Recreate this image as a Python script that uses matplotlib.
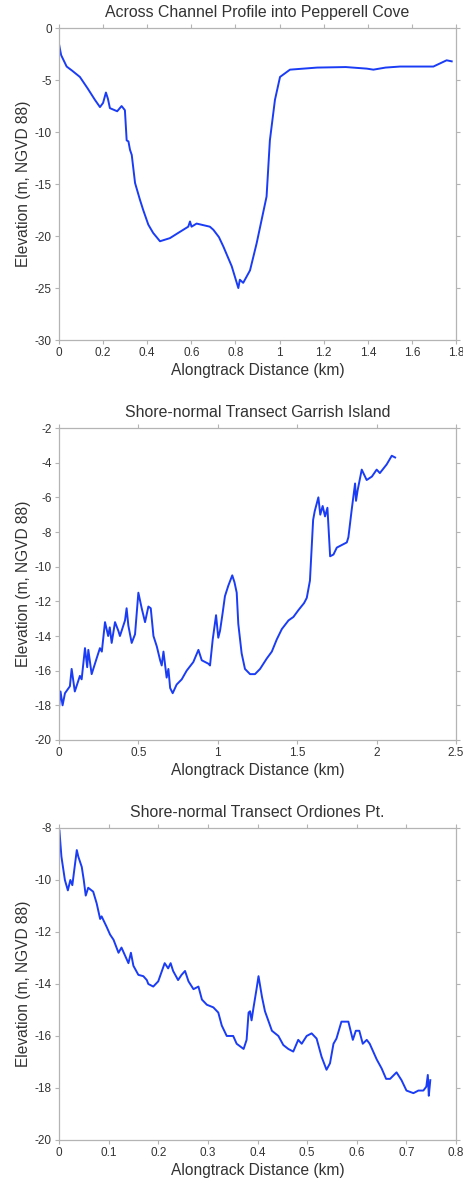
import matplotlib
matplotlib.use("Agg")
import matplotlib.pyplot as plt

plt.rcParams['font.family'] = ['Liberation Sans', 'DejaVu Sans']

# Panel 1: Across Channel Profile into Pepperell Cove
dist_pepperell = [0.0, 0.01, 0.035, 0.06, 0.095, 0.13, 0.163, 0.186, 0.2, 0.213, 0.222, 0.231, 0.264, 0.284,
                  0.299, 0.307, 0.315, 0.322, 0.33, 0.345, 0.367, 0.382, 0.405, 0.427, 0.458, 0.503,
                  0.548, 0.586, 0.594, 0.601, 0.624, 0.684, 0.70, 0.725, 0.745, 0.783, 0.813, 0.82,
                  0.835, 0.866, 0.896, 0.934, 0.941, 0.956, 0.979, 1.002, 1.047, 1.17, 1.3,
                  1.395, 1.425, 1.48, 1.546, 1.697, 1.757, 1.78]
elev_pepperell = [-1.5, -2.6, -3.7, -4.1, -4.7, -5.8, -6.9, -7.6, -7.2, -6.2, -6.8, -7.7, -8.0, -7.5,
                  -7.9, -10.8, -10.9, -11.7, -12.2, -14.9, -16.5, -17.5, -18.9, -19.7, -20.5, -20.2,
                  -19.6, -19.1, -18.6, -19.1, -18.8, -19.1, -19.4, -20.1, -21.0, -22.9, -25.0, -24.2,
                  -24.5, -23.3, -20.7, -16.9, -16.2, -10.8, -6.9, -4.7, -4.0, -3.8, -3.75,
                  -3.9, -4.0, -3.8, -3.7, -3.7, -3.1, -3.2]

# Panel 2: Shore-normal Transect Garrish Island
dist_garrish = [0.0, 0.01, 0.023, 0.038, 0.069, 0.08, 0.1, 0.132, 0.143, 0.164, 0.178, 0.185,
                0.206, 0.237, 0.258, 0.27, 0.29, 0.31, 0.32, 0.332, 0.353, 0.374, 0.384,
                0.416, 0.426, 0.437, 0.458, 0.479, 0.5, 0.521, 0.542, 0.563, 0.578, 0.595,
                0.616, 0.637, 0.647, 0.658, 0.678, 0.689, 0.7, 0.716, 0.741, 0.773, 0.804,
                0.846, 0.878, 0.899, 0.941, 0.951, 0.968, 0.989, 1.003, 1.014, 1.03, 1.045,
                1.066, 1.091, 1.105, 1.119, 1.129, 1.15, 1.171, 1.203, 1.234, 1.266, 1.287,
                1.308, 1.34, 1.371, 1.403, 1.445, 1.476, 1.508, 1.543, 1.56, 1.58, 1.60,
                1.61, 1.633, 1.645, 1.66, 1.675, 1.69, 1.707, 1.728, 1.749, 1.812, 1.822,
                1.843, 1.864, 1.87, 1.88, 1.906, 1.937, 1.97, 2.0, 2.02, 2.063, 2.095, 2.116]
elev_garrish = [-18.2, -17.2, -18.0, -17.3, -16.9, -15.9, -17.2, -16.3, -16.5, -14.7, -15.8, -14.8,
                -16.2, -15.3, -14.7, -14.9, -13.2, -14.0, -13.5, -14.4, -13.2, -13.7, -14.0,
                -13.1, -12.4, -13.4, -14.4, -13.9, -11.5, -12.4, -13.2, -12.3, -12.4, -14.0,
                -14.6, -15.4, -15.7, -14.9, -16.4, -15.9, -17.0, -17.3, -16.8, -16.5, -16.0,
                -15.5, -14.8, -15.4, -15.6, -15.7, -14.2, -12.8, -14.1, -13.7, -12.7, -11.7,
                -11.1, -10.5, -10.9, -11.5, -13.3, -15.0, -15.9, -16.2, -16.2, -15.9, -15.6,
                -15.3, -14.9, -14.2, -13.6, -13.1, -12.9, -12.5, -12.1, -11.8, -10.8, -7.3,
                -6.8, -6.0, -7.0, -6.5, -7.1, -6.6, -9.4, -9.3, -8.9, -8.6, -8.3,
                -6.7, -5.2, -6.2, -5.6, -4.4, -5.0, -4.8, -4.4, -4.6, -4.1, -3.6, -3.7]

# Panel 3: Shore-normal Transect Ordiones Pt.
dist_ordiones = [0.001, 0.005, 0.012, 0.018, 0.023, 0.027, 0.036, 0.039, 0.046, 0.05, 0.054,
                 0.059, 0.069, 0.076, 0.083, 0.086, 0.096, 0.103, 0.11, 0.12, 0.126, 0.14,
                 0.145, 0.15, 0.16, 0.17, 0.177, 0.18, 0.19, 0.2, 0.213, 0.22, 0.225, 0.23,
                 0.24, 0.247, 0.254, 0.261, 0.271, 0.281, 0.288, 0.298, 0.311, 0.321, 0.328,
                 0.338, 0.351, 0.358, 0.372, 0.378, 0.382, 0.385, 0.388, 0.392, 0.398, 0.402,
                 0.409, 0.415, 0.429, 0.442, 0.452, 0.462, 0.472, 0.482, 0.489, 0.499, 0.509,
                 0.519, 0.529, 0.539, 0.546, 0.553, 0.559, 0.569, 0.583, 0.592, 0.598, 0.605,
                 0.612, 0.62, 0.626, 0.64, 0.65, 0.659, 0.667, 0.68, 0.69, 0.7, 0.714, 0.724,
                 0.734, 0.74, 0.743, 0.745, 0.747, 0.748]
elev_ordiones = [-8.1, -9.1, -10.0, -10.4, -10.0, -10.2, -8.85, -9.1, -9.5, -10.0, -10.6,
                 -10.3, -10.45, -10.9, -11.5, -11.4, -11.8, -12.1, -12.3, -12.8, -12.6, -13.2,
                 -12.8, -13.3, -13.65, -13.7, -13.85, -14.0, -14.1, -13.9, -13.2, -13.4, -13.2, -13.5,
                 -13.85, -13.65, -13.5, -13.9, -14.2, -14.1, -14.6, -14.8, -14.9, -15.1, -15.6,
                 -16.0, -16.0, -16.3, -16.5, -16.15, -15.1, -15.05, -15.4, -14.9, -14.2, -13.7,
                 -14.5, -15.05, -15.8, -16.0, -16.35, -16.5, -16.6, -16.15, -16.3, -16.0, -15.9,
                 -16.1, -16.8, -17.3, -17.05, -16.3, -16.1, -15.45, -15.45, -16.15, -15.8, -15.8,
                 -16.3, -16.15, -16.3, -16.9, -17.25, -17.65, -17.65, -17.4, -17.7, -18.1, -18.2, -18.1,
                 -18.1, -17.95, -17.5, -18.3, -17.9, -17.7]

titles = ["Across Channel Profile into Pepperell Cove",
          "Shore-normal Transect Garrish Island",
          "Shore-normal Transect Ordiones Pt."]
xlims = [(0, 1.8), (0, 2.5), (0, 0.8)]
ylims = [(-30, 0), (-20, -2), (-20, -8)]
xticks = [[0, 0.2, 0.4, 0.6, 0.8, 1, 1.2, 1.4, 1.6, 1.8],
          [0, 0.5, 1, 1.5, 2, 2.5],
          [0, 0.1, 0.2, 0.3, 0.4, 0.5, 0.6, 0.7, 0.8]]
yticks = [[-30, -25, -20, -15, -10, -5, 0],
          [-20, -18, -16, -14, -12, -10, -8, -6, -4, -2],
          [-20, -18, -16, -14, -12, -10, -8]]
series = [(dist_pepperell, elev_pepperell),
          (dist_garrish, elev_garrish),
          (dist_ordiones, elev_ordiones)]

fig = plt.figure(figsize=(4.64, 11.84), dpi=100)
bottoms = [0.7128, 0.375, 0.0372]
spine_col = '#b4b4b4'
text_col = '#333333'

for i in range(3):
    ax = fig.add_axes([0.127, bottoms[i], 0.856, 0.2635])
    x, y = series[i]
    ax.plot(x, y, color='#1a3cf5', lw=1.4)
    ax.set_xlim(*xlims[i])
    ax.set_ylim(*ylims[i])
    ax.set_xticks(xticks[i])
    ax.set_yticks(yticks[i])
    ax.set_xticklabels([('%g' % v) for v in xticks[i]])
    ax.set_yticklabels([('%g' % v) for v in yticks[i]])
    for s in ax.spines.values():
        s.set_color(spine_col)
        s.set_linewidth(0.9)
    ax.tick_params(direction='out', length=3, width=0.8, color=spine_col,
                   labelsize=8.5, labelcolor=text_col, pad=2,
                   top=True, right=True, labeltop=False, labelright=False)
    ax.set_title(titles[i], fontsize=11.4, color=text_col, pad=8)
    ax.set_xlabel('Alongtrack Distance (km)', fontsize=11.2, color=text_col, labelpad=3)
    ax.set_ylabel('Elevation (m, NGVD 88)', fontsize=11.2, color=text_col, labelpad=3)

fig.savefig('out.png', dpi=100)
